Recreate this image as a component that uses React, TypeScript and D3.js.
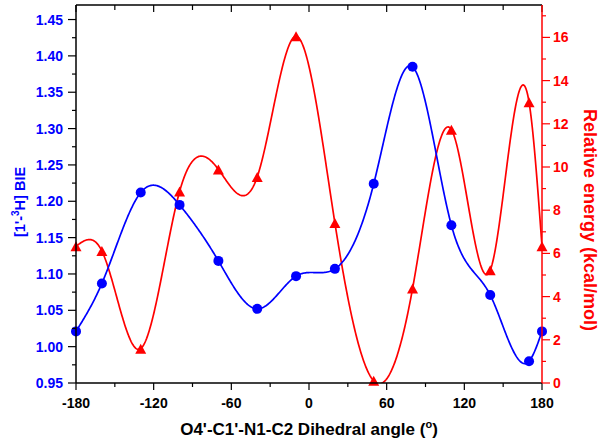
import React from "react";
import * as d3 from "d3";

const angles = [-180, -160, -130, -100, -70, -40, -10, 20, 50, 80, 110, 140, 170, 180];
const bieValues = [1.021, 1.087, 1.212, 1.195, 1.118, 1.052, 1.097, 1.107, 1.224, 1.385, 1.167, 1.071, 0.980, 1.021];
const energyValues = [6.33, 6.11, 1.59, 8.86, 9.89, 9.54, 16.05, 7.41, 0.1, 4.37, 11.73, 5.22, 13.0, 6.33];

const xTicks = [-180, -120, -60, 0, 60, 120, 180];
const xMinorTicks = [-150, -90, -30, 30, 90, 150];
const leftTicks = [0.95, 1.0, 1.05, 1.1, 1.15, 1.2, 1.25, 1.3, 1.35, 1.4, 1.45];
const leftMinorTicks = [0.975, 1.025, 1.075, 1.125, 1.175, 1.225, 1.275, 1.325, 1.375, 1.425];
const rightTicks = [0, 2, 4, 6, 8, 10, 12, 14, 16];
const rightMinorTicks = [1, 3, 5, 7, 9, 11, 13, 15, 17];

const W = 601, H = 439;
const L = 76, R = 542, T = 5, B = 383;
const BLUE = "#0000ff";
const RED = "#ff0000";
const FONT = "'Liberation Sans', Arial, sans-serif";

// natural cubic spline y(x) evaluator (for drawing the smooth connecting curve)
function naturalSpline(xs: number[], ys: number[]) {
  const n = xs.length;
  const h: number[] = [];
  for (let i = 0; i < n - 1; i++) h.push(xs[i + 1] - xs[i]);
  const a = new Array(n).fill(0), b = new Array(n).fill(0), c = new Array(n).fill(0), r = new Array(n).fill(0);
  b[0] = 1; b[n - 1] = 1;
  for (let i = 1; i < n - 1; i++) {
    a[i] = h[i - 1];
    b[i] = 2 * (h[i - 1] + h[i]);
    c[i] = h[i];
    r[i] = 6 * ((ys[i + 1] - ys[i]) / h[i] - (ys[i] - ys[i - 1]) / h[i - 1]);
  }
  // Thomas algorithm
  const cp = new Array(n).fill(0), rp = new Array(n).fill(0);
  cp[0] = c[0] / b[0]; rp[0] = r[0] / b[0];
  for (let i = 1; i < n; i++) {
    const m = b[i] - a[i] * cp[i - 1];
    cp[i] = c[i] / m;
    rp[i] = (r[i] - a[i] * rp[i - 1]) / m;
  }
  const M = new Array(n).fill(0);
  M[n - 1] = rp[n - 1];
  for (let i = n - 2; i >= 0; i--) M[i] = rp[i] - cp[i] * M[i + 1];
  return (x: number) => {
    let i = 0;
    while (i < n - 2 && x > xs[i + 1]) i++;
    const hi = h[i];
    const t1 = xs[i + 1] - x, t0 = x - xs[i];
    return (
      (M[i] * t1 * t1 * t1) / (6 * hi) +
      (M[i + 1] * t0 * t0 * t0) / (6 * hi) +
      (ys[i] / hi - (M[i] * hi) / 6) * t1 +
      (ys[i + 1] / hi - (M[i + 1] * hi) / 6) * t0
    );
  };
}

export default function App() {
  const x = d3.scaleLinear().domain([-180, 180]).range([L, R]);
  const yL = d3.scaleLinear().domain([0.95, 1.47]).range([B, T]);
  const yR = d3.scaleLinear().domain([0, 17.5]).range([B, T]);

  const samples = d3.range(-180, 180.001, 0.5);
  const fB = naturalSpline(angles, bieValues);
  const fE = naturalSpline(angles, energyValues);

  const line = d3.line<[number, number]>().x((d) => d[0]).y((d) => d[1]);
  const bPath = line(samples.map((s) => [x(s), yL(fB(s))] as [number, number])) || "";
  const ePath = line(samples.map((s) => [x(s), yR(fE(s))] as [number, number])) || "";

  const tri = (cx: number, cy: number) => {
    const hw = 5.5, hh = 5;
    return `M${cx},${cy - hh}L${cx + hw},${cy + hh}L${cx - hw},${cy + hh}Z`;
  };

  return (
    <svg width={W} height={H} style={{ position: "absolute", left: 0, top: 0, background: "#fff" }} fontFamily={FONT}>
      <defs>
        <clipPath id="plot">
          <rect x={L} y={T} width={R - L} height={B - T} />
        </clipPath>
      </defs>

      <g clipPath="url(#plot)">
        <path d={ePath} fill="none" stroke={RED} strokeWidth={1.7} />
        <path d={bPath} fill="none" stroke={BLUE} strokeWidth={1.7} />
      </g>
      {energyValues.map((v, i) => (
        <path key={"t" + i} d={tri(x(angles[i]), yR(v))} fill={RED} />
      ))}
      {bieValues.map((v, i) => (
        <circle key={"c" + i} cx={x(angles[i])} cy={yL(v)} r={5} fill={BLUE} />
      ))}

      {/* frame top */}
      <line x1={L} x2={R} y1={T} y2={T} stroke="#000" strokeWidth={1.5} />
      {xTicks.map((t) => (
        <line key={"tt" + t} x1={x(t)} x2={x(t)} y1={T} y2={T + 7} stroke="#000" strokeWidth={1.2} />
      ))}
      {xMinorTicks.map((t) => (
        <line key={"tm" + t} x1={x(t)} x2={x(t)} y1={T} y2={T + 5} stroke="#000" strokeWidth={1.2} />
      ))}

      {/* bottom axis */}
      <line x1={L} x2={R} y1={B} y2={B} stroke="#000" strokeWidth={1.5} />
      {xTicks.map((t) => (
        <g key={"bx" + t}>
          <line x1={x(t)} x2={x(t)} y1={B} y2={B + 7} stroke="#000" strokeWidth={1.2} />
          <text x={x(t)} y={408} textAnchor="middle" fontSize={14} fontWeight="bold" fill="#000">{t}</text>
        </g>
      ))}
      {xMinorTicks.map((t) => (
        <line key={"bm" + t} x1={x(t)} x2={x(t)} y1={B} y2={B + 4} stroke="#000" strokeWidth={1.2} />
      ))}
      <text x={(L + R) / 2} y={435} textAnchor="middle" fontSize={17} fontWeight="bold" fill="#000">
        O4'-C1'-N1-C2 Dihedral angle (<tspan fontSize={11} dy={-7}>o</tspan><tspan dy={7}>)</tspan>
      </text>

      {/* left axis */}
      <line x1={L} x2={L} y1={T} y2={B} stroke="#000" strokeWidth={1.5} />
      {leftTicks.map((t) => (
        <g key={"l" + t}>
          <line x1={L - 8} x2={L} y1={yL(t)} y2={yL(t)} stroke="#000" strokeWidth={1.2} />
          <text x={63} y={yL(t) + 5} textAnchor="end" fontSize={14} fontWeight="bold" fill={BLUE}>{t.toFixed(2)}</text>
        </g>
      ))}
      {leftMinorTicks.map((t) => (
        <line key={"lm" + t} x1={L - 4} x2={L} y1={yL(t)} y2={yL(t)} stroke="#000" strokeWidth={1.2} />
      ))}
      <text transform={`translate(24.5,202) rotate(-90)`} textAnchor="middle" fontSize={14.5} fontWeight="bold" fill={BLUE}>
        [1'-<tspan fontSize={10} dy={-6}>3</tspan><tspan dy={6}>H] BIE</tspan>
      </text>

      {/* right axis */}
      <line x1={R} x2={R} y1={T} y2={B} stroke={RED} strokeWidth={1.5} />
      {rightTicks.map((t) => (
        <g key={"r" + t}>
          <line x1={R} x2={R + 8} y1={yR(t)} y2={yR(t)} stroke={RED} strokeWidth={1.2} />
          <text x={553} y={yR(t) + 5} textAnchor="start" fontSize={14} fontWeight="bold" fill={RED}>{t}</text>
        </g>
      ))}
      {rightMinorTicks.map((t) => (
        <line key={"rm" + t} x1={R} x2={R + 4} y1={yR(t)} y2={yR(t)} stroke={RED} strokeWidth={1.2} />
      ))}
      <text transform={`translate(584,220) rotate(90)`} textAnchor="middle" fontSize={18} fontWeight="bold" fill={RED}>
        Relative energy (kcal/mol)
      </text>
    </svg>
  );
}
